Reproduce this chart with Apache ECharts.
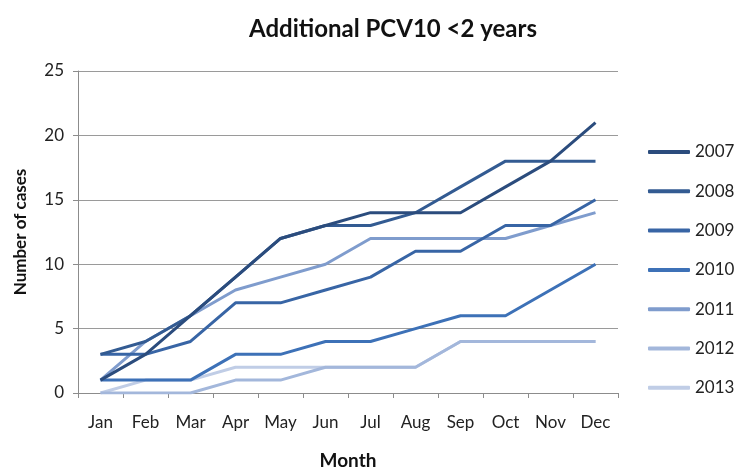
<!DOCTYPE html>
<html>
<head>
<meta charset="utf-8">
<script src="https://cdn.jsdelivr.net/npm/echarts@6/dist/echarts.min.js"></script>
<style>
  html, body { margin: 0; padding: 0; background: #fff; }
  #chart { width: 739px; height: 469px; }
</style>
</head>
<body>
<div id="chart"></div>
<script>
const months = ['Jan', 'Feb', 'Mar', 'Apr', 'May', 'Jun', 'Jul', 'Aug', 'Sep', 'Oct', 'Nov', 'Dec'];

const y2007 = [1, 3, 6, 9, 12, 13, 14, 14, 14, 16, 18, 21];
const y2008 = [3, 4, 6, 9, 12, 13, 13, 14, 16, 18, 18, 18];
const y2009 = [3, 3, 4, 7, 7, 8, 9, 11, 11, 13, 13, 15];
const y2010 = [1, 1, 1, 3, 3, 4, 4, 5, 6, 6, 8, 10];
const y2011 = [1, 4, 6, 8, 9, 10, 12, 12, 12, 12, 13, 14];
const y2012 = [0, 0, 0, 1, 1, 2, 2, 2, 4, 4, 4, 4];
const y2013 = [0, 1, 1, 2, 2, 2, 2, 2, 4, 4, 4, 4];

const yTicks = [0, 5, 10, 15, 20, 25];

const years = ['2007', '2008', '2009', '2010', '2011', '2012', '2013'];
const values = [y2007, y2008, y2009, y2010, y2011, y2012, y2013];
const colors = ['#2b4c7d', '#335b92', '#3865a5', '#3d71b7', '#7f9ccd', '#a3b7db', '#c0cde6'];

const font = 'Lato, "Open Sans", sans-serif';

const chart = echarts.init(document.getElementById('chart'));

const option = {
  animation: false,
  textStyle: { fontFamily: font },
  title: {
    text: 'Additional PCV10 <2 years',
    left: 388,
    textAlign: 'center',
    top: 12,
    textStyle: { fontSize: 24, fontWeight: 'bold', color: '#111', fontFamily: font }
  },
  legend: {
    data: years,
    orient: 'vertical',
    left: 643,
    top: 137,
    icon: 'roundRect',
    itemWidth: 42,
    itemHeight: 4,
    itemGap: 19.3,
    textStyle: { fontSize: 17, lineHeight: 20, color: '#222', fontFamily: font, padding: [0, 0, 0, 0] }
  },
  grid: {
    left: 78,
    right: 121,
    top: 71,
    bottom: 76,
    containLabel: false,
    outerBoundsMode: 'none'
  },
  xAxis: {
    type: 'category',
    data: months,
    boundaryGap: true,
    name: 'Month',
    nameLocation: 'middle',
    nameGap: 58,
    nameTextStyle: { fontSize: 19, fontWeight: 'bold', color: '#111', fontFamily: font },
    axisLine: { lineStyle: { color: '#8c8c8c', width: 1 } },
    axisTick: { show: true, length: 5, lineStyle: { color: '#8c8c8c' } },
    axisLabel: { margin: 21, fontSize: 17, color: '#222', fontFamily: font, interval: 0 },
    splitLine: { show: false }
  },
  yAxis: {
    type: 'value',
    min: yTicks[0],
    max: yTicks[yTicks.length - 1],
    interval: 5,
    name: 'Number of cases',
    nameLocation: 'middle',
    nameGap: 49,
    nameRotate: 90,
    nameTextStyle: { fontSize: 17, fontWeight: 'bold', color: '#111', fontFamily: font },
    axisLine: { show: true, lineStyle: { color: '#8c8c8c', width: 1 } },
    axisTick: { show: true, length: 5, lineStyle: { color: '#8c8c8c' } },
    axisLabel: { margin: 14, fontSize: 17, color: '#222', fontFamily: font },
    splitLine: { show: true, lineStyle: { color: '#9a9a9a', width: 1 } }
  },
  series: years.map(function (yr, i) {
    return {
      name: yr,
      type: 'line',
      data: values[i],
      symbol: 'none',
      z: 10 - i,
      itemStyle: { color: colors[i] },
      lineStyle: { color: colors[i], width: 3 }
    };
  })
};

chart.setOption(option);
</script>
</body>
</html>
